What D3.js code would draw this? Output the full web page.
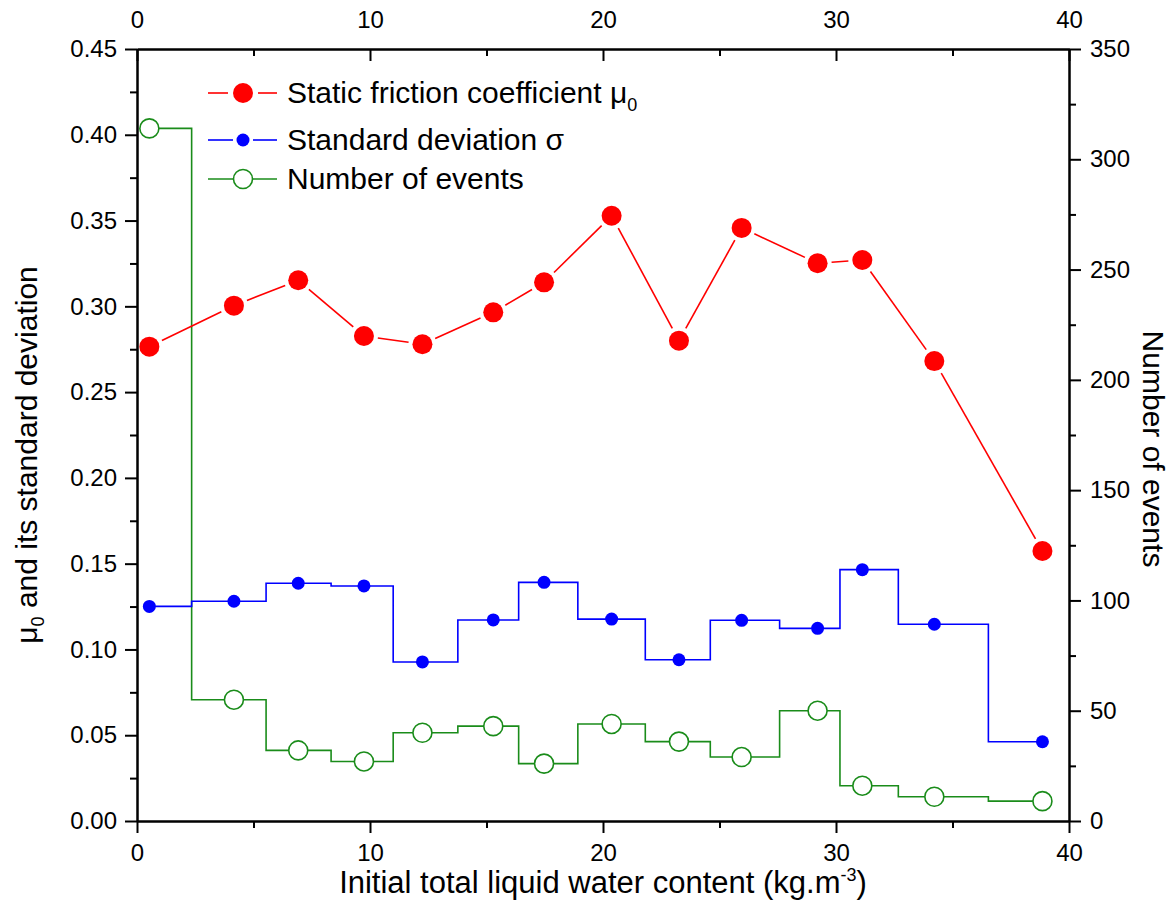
<!DOCTYPE html>
<html><head><meta charset="utf-8">
<script src="https://cdn.jsdelivr.net/npm/d3@7"></script>
<style>body{margin:0;background:#fff}text{font-family:"Liberation Sans",Arial,sans-serif}</style>
</head><body><svg id="c" width="1170" height="902"></svg>
<script>
const waterContent = [0.53,4.16,6.92,9.74,12.25,15.29,17.47,20.37,23.26,25.95,29.21,31.13,34.22,38.86];
const frictionCoef = [0.2765,0.3004,0.3152,0.2827,0.2779,0.2965,0.3140,0.3528,0.2800,0.3457,0.3251,0.3270,0.2681,0.1574];
const stdDev = [0.1251,0.1281,0.1386,0.1370,0.0927,0.1172,0.1391,0.1177,0.0940,0.1170,0.1123,0.1465,0.1147,0.0462];
const eventCount = [314,55,32,27,40,43,26,44,36,29,50,16,11,9];
const xTicks = [0,10,20,30,40];
const xMinor = [5,15,25,35];
const leftTicks = [0,0.05,0.10,0.15,0.20,0.25,0.30,0.35,0.40,0.45];
const leftMinor = [0.025,0.075,0.125,0.175,0.225,0.275,0.325,0.375,0.425];
const rightTicks = [0,50,100,150,200,250,300,350];
const rightMinor = [25,75,125,175,225,275,325];

const svg = d3.select("#c");
const L=137,R=1069,T=49,B=821;
const x = d3.scaleLinear().domain([0,40]).range([L,R]);
const yL = d3.scaleLinear().domain([0,0.45]).range([B,T]);
const yR = d3.scaleLinear().domain([0,350]).range([B,T]);

const RED="#ff0000", BLUE="#0000ff", GREEN="#1a8c1a";

function styleAxis(g, fs){
  g.selectAll("path.domain").attr("stroke","#000").attr("stroke-width",2);
  g.selectAll(".tick line").attr("stroke","#000").attr("stroke-width",2);
  g.selectAll(".tick text").attr("fill","#000").style("font-size",fs+"px").style("font-family","'Liberation Sans',Arial,sans-serif");
}
const fs=24;
svg.append("g").attr("transform",`translate(0,${B})`)
  .call(d3.axisBottom(x).tickValues(xTicks).tickSize(12).tickSizeOuter(0).tickPadding(11).tickFormat(d3.format("d")))
  .call(g=>styleAxis(g,fs));
svg.append("g").attr("transform",`translate(0,${B})`)
  .call(d3.axisBottom(x).tickValues(xMinor).tickSize(7).tickSizeOuter(0).tickFormat(""))
  .call(g=>styleAxis(g,fs));
svg.append("g").attr("transform",`translate(0,${T})`)
  .call(d3.axisTop(x).tickValues(xTicks).tickSize(-12).tickSizeOuter(0).tickPadding(21).tickFormat(d3.format("d")))
  .call(g=>styleAxis(g,fs));
svg.append("g").attr("transform",`translate(0,${T})`)
  .call(d3.axisTop(x).tickValues(xMinor).tickSize(-7).tickSizeOuter(0).tickFormat(""))
  .call(g=>styleAxis(g,fs));
svg.append("g").attr("transform",`translate(${L},0)`)
  .call(d3.axisLeft(yL).tickValues(leftTicks).tickSize(12).tickSizeOuter(0).tickPadding(8).tickFormat(d3.format(".2f")))
  .call(g=>styleAxis(g,fs));
svg.append("g").attr("transform",`translate(${L},0)`)
  .call(d3.axisLeft(yL).tickValues(leftMinor).tickSize(7).tickSizeOuter(0).tickFormat(""))
  .call(g=>styleAxis(g,fs));
svg.append("g").attr("transform",`translate(${R},0)`)
  .call(d3.axisRight(yR).tickValues(rightTicks).tickSize(12).tickSizeOuter(0).tickPadding(9).tickFormat(d3.format("d")))
  .call(g=>styleAxis(g,fs));
svg.append("g").attr("transform",`translate(${R},0)`)
  .call(d3.axisRight(yR).tickValues(rightMinor).tickSize(7).tickSizeOuter(0).tickFormat(""))
  .call(g=>styleAxis(g,fs));

// axis titles
svg.append("text").attr("x",(L+R)/2).attr("y",893).attr("text-anchor","middle").style("font-size","31px")
  .call(t=>{t.append("tspan").text("Initial total liquid water content (kg.m");
    t.append("tspan").attr("dy",-12).style("font-size","18px").text("-3");
    t.append("tspan").attr("dy",12).text(")");});
svg.append("text").attr("transform","translate(37,455) rotate(-90)").attr("text-anchor","middle").style("font-size","30px")
  .call(t=>{t.append("tspan").text("μ");
    t.append("tspan").attr("dy",7).style("font-size","18px").text("0");
    t.append("tspan").attr("dy",-7).text(" and its standard deviation");});
svg.append("text").attr("transform","translate(1143,449) rotate(90)").attr("text-anchor","middle").style("font-size","30px")
  .text("Number of events");

const pts = waterContent.map((w,i)=>({w,f:frictionCoef[i],s:stdDev[i],n:eventCount[i]}));

svg.append("path").datum(pts).attr("fill","none").attr("stroke",GREEN).attr("stroke-width",1.6)
  .attr("d",d3.line().x(d=>x(d.w)).y(d=>yR(d.n)).curve(d3.curveStep));
svg.append("path").datum(pts).attr("fill","none").attr("stroke",BLUE).attr("stroke-width",1.6)
  .attr("d",d3.line().x(d=>x(d.w)).y(d=>yL(d.s)).curve(d3.curveStep));
const gap=14;
for(let i=0;i<pts.length-1;i++){
  const x1=x(pts[i].w),y1=yL(pts[i].f),x2=x(pts[i+1].w),y2=yL(pts[i+1].f);
  const dx=x2-x1,dy=y2-y1,len=Math.hypot(dx,dy);
  if(len<=2*gap) continue;
  const ux=dx/len,uy=dy/len;
  svg.append("line").attr("x1",x1+ux*gap).attr("y1",y1+uy*gap).attr("x2",x2-ux*gap).attr("y2",y2-uy*gap)
    .attr("stroke",RED).attr("stroke-width",1.6);
}
svg.append("g").selectAll("circle").data(pts).join("circle")
  .attr("cx",d=>x(d.w)).attr("cy",d=>yL(d.f)).attr("r",10).attr("fill",RED);
svg.append("g").selectAll("circle").data(pts).join("circle")
  .attr("cx",d=>x(d.w)).attr("cy",d=>yL(d.s)).attr("r",6.5).attr("fill",BLUE);
svg.append("g").selectAll("circle").data(pts).join("circle")
  .attr("cx",d=>x(d.w)).attr("cy",d=>yR(d.n)).attr("r",9.5).attr("fill","#fff").attr("stroke",GREEN).attr("stroke-width",1.6);

const lg = svg.append("g");
const lx1=208,lx2=277,lm=243,tx=287;
function legRow(y,color,type,label){
  if(type==="red"){
    lg.append("line").attr("x1",lx1).attr("x2",lm-15).attr("y1",y).attr("y2",y).attr("stroke",color).attr("stroke-width",1.6);
    lg.append("line").attr("x1",lm+15).attr("x2",lx2).attr("y1",y).attr("y2",y).attr("stroke",color).attr("stroke-width",1.6);
    lg.append("circle").attr("cx",lm).attr("cy",y).attr("r",10).attr("fill",color);
  } else if(type==="blue"){
    lg.append("line").attr("x1",lx1).attr("x2",lm-10).attr("y1",y).attr("y2",y).attr("stroke",color).attr("stroke-width",1.6);
    lg.append("line").attr("x1",lm+10).attr("x2",lx2).attr("y1",y).attr("y2",y).attr("stroke",color).attr("stroke-width",1.6);
    lg.append("circle").attr("cx",lm).attr("cy",y).attr("r",6.5).attr("fill",color);
  } else {
    lg.append("line").attr("x1",lx1).attr("x2",lx2).attr("y1",y).attr("y2",y).attr("stroke",color).attr("stroke-width",1.6);
    lg.append("circle").attr("cx",lm).attr("cy",y).attr("r",9.5).attr("fill","#fff").attr("stroke",color).attr("stroke-width",1.6);
  }
  const t=lg.append("text").attr("x",tx).attr("y",y+10).style("font-size","30px");
  label(t);
}
legRow(93,RED,"red",t=>{t.append("tspan").text("Static friction coefficient μ");
  t.append("tspan").attr("dy",8).style("font-size","18px").text("0");});
legRow(140,BLUE,"blue",t=>t.text("Standard deviation σ"));
legRow(179,GREEN,"green",t=>t.text("Number of events"));
</script></body></html>
